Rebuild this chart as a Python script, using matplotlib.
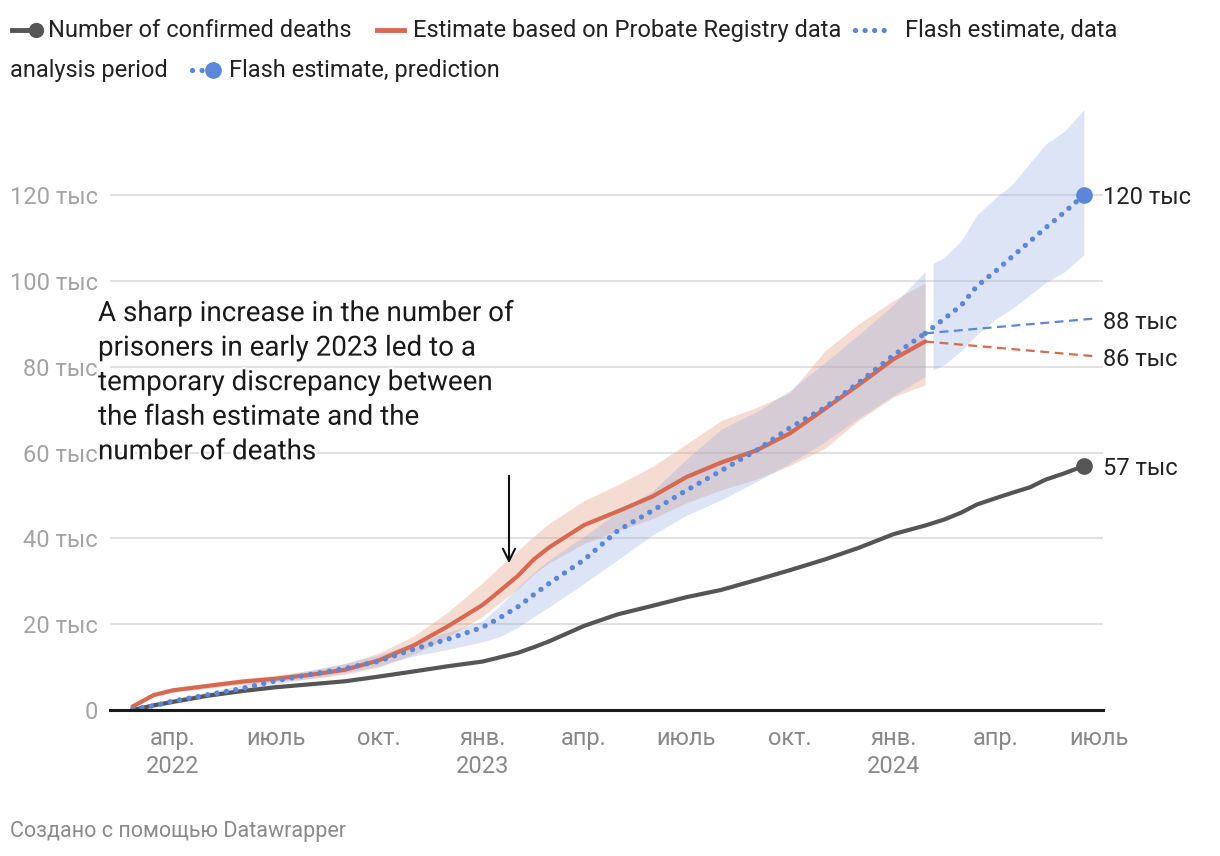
import matplotlib
matplotlib.use('Agg')
import matplotlib.pyplot as plt
import matplotlib.patheffects as pe
from matplotlib.lines import Line2D
import pandas as pd

plt.rcParams['font.family'] = ['Roboto', 'DejaVu Sans']

# values in thousands
main_dates = ['2022-02-24', '2022-03-15', '2022-04-01', '2022-05-01', '2022-06-01',
              '2022-07-01', '2022-08-01', '2022-09-01', '2022-10-01', '2022-11-01',
              '2022-12-01', '2023-01-01', '2023-01-15', '2023-02-01', '2023-02-15',
              '2023-03-01', '2023-04-01', '2023-05-01', '2023-06-01', '2023-07-01',
              '2023-08-01', '2023-09-01', '2023-10-01', '2023-11-01', '2023-12-01',
              '2024-01-01', '2024-01-29']
probate = [0.8, 3.5, 4.6, 5.6, 6.6, 7.3, 8.2, 9.4, 11.6, 15.1, 19.5, 24.5, 27.5, 31.2,
           35.0, 37.9, 43.1, 46.3, 49.8, 54.3, 57.7, 60.5, 64.5, 70.2, 75.8, 81.8, 85.9]
probate_hi = [1.0, 3.9, 5.1, 6.2, 7.3, 8.1, 9.2, 10.8, 13.3, 17.3, 22.8, 29.7, 33.1, 37.1,
              40.4, 43.5, 48.8, 52.5, 56.8, 62.0, 67.5, 70.5, 74.0, 83.7, 90.0, 95.5, 99.6]
probate_lo = [0.6, 3.1, 4.1, 5.0, 5.9, 6.6, 7.3, 8.3, 10.0, 13.0, 17.0, 21.8, 24.8, 28.2,
              31.6, 34.3, 38.8, 41.8, 44.6, 48.3, 51.3, 53.8, 57.0, 61.0, 67.5, 73.0, 75.8]
flash = [0.2, 1.0, 2.1, 3.5, 5.0, 6.8, 8.3, 9.7, 11.4, 14.2, 16.5, 19.3, 21.3, 24.0,
         26.8, 29.5, 35.0, 41.8, 46.5, 51.2, 55.8, 60.5, 65.8, 70.5, 76.3, 82.7, 87.8]
flash_hi = [0.4, 1.5, 2.7, 4.2, 5.8, 7.7, 9.3, 10.9, 12.9, 15.6, 18.2, 20.8, 24.0, 28.5,
            32.0, 35.0, 40.5, 46.0, 51.0, 58.5, 65.5, 69.5, 74.5, 81.0, 87.5, 94.5, 102.2]
flash_lo = [0.0, 0.6, 1.5, 2.9, 4.3, 6.0, 7.4, 8.7, 10.3, 12.6, 14.1, 15.9, 17.0, 19.2,
            21.7, 24.0, 29.5, 35.0, 40.8, 45.4, 49.0, 53.2, 57.5, 62.5, 68.0, 73.3, 77.7]

confirmed_dates = main_dates + ['2024-02-15', '2024-03-01', '2024-03-15', '2024-04-01',
                                '2024-04-15', '2024-05-01', '2024-05-15', '2024-06-01',
                                '2024-06-18']
confirmed = [0.0, 1.1, 1.9, 3.3, 4.4, 5.3, 6.0, 6.7, 7.8, 9.0, 10.2, 11.3, 12.2, 13.3,
             14.6, 16.0, 19.6, 22.3, 24.3, 26.3, 28.0, 30.3, 32.6, 35.1, 37.8, 41.0, 43.0,
             44.4, 46.0, 47.9, 49.4, 50.6, 51.9, 53.7, 55.2, 56.9]

pred_dates = ['2024-01-29', '2024-02-15', '2024-03-01', '2024-03-15', '2024-04-01',
              '2024-04-15', '2024-05-01', '2024-05-15', '2024-06-01', '2024-06-18']
pred = [87.8, 91.2, 94.3, 98.8, 102.4, 105.6, 109.2, 112.4, 116.1, 120.0]
pred_band_dates = ['2024-02-05', '2024-02-15', '2024-03-01', '2024-03-15', '2024-04-01',
                   '2024-04-15', '2024-05-01', '2024-05-15', '2024-06-01', '2024-06-18']
pred_hi = [104.1, 105.5, 109.3, 115.4, 119.5, 122.4, 127.5, 131.9, 135.0, 139.9]
pred_lo = [79.3, 80.5, 83.7, 87.5, 91.2, 93.5, 96.7, 99.6, 102.2, 106.1]

leader_dates = ['2024-01-29', '2024-06-30']
leader_flash = [87.8, 91.3]
leader_probate = [85.9, 82.4]

tick_dates = ['2022-04-01', '2022-07-01', '2022-10-01', '2023-01-01', '2023-04-01',
              '2023-07-01', '2023-10-01', '2024-01-01', '2024-04-01', '2024-07-01']
tick_labels = ['апр.\n2022', 'июль', 'окт.', 'янв.\n2023', 'апр.', 'июль', 'окт.',
               'янв.\n2024', 'апр.', 'июль']
y_ticks = [0, 20, 40, 60, 80, 100, 120]

BLACK = '#555555'
ORANGE = '#d6694f'
BLUE = '#5b87d8'
DOTS = (0, (0.01, 1.8))

md = pd.to_datetime(main_dates)
cd = pd.to_datetime(confirmed_dates)
pdt = pd.to_datetime(pred_dates)
pbd = pd.to_datetime(pred_band_dates)
ld = pd.to_datetime(leader_dates)

fig = plt.figure(figsize=(12.2, 8.56), dpi=100)
ax = fig.add_axes([110 / 1220, 146 / 856, 993 / 1220, 600.6 / 856])

ax.fill_between(md, probate_lo, probate_hi, color='#de8e70', alpha=0.3, lw=0, zorder=1)
ax.fill_between(md, flash_lo, flash_hi, color='#91a8de', alpha=0.3, lw=0, zorder=1)
ax.fill_between(pbd, pred_lo, pred_hi, color='#91a8de', alpha=0.3, lw=0, zorder=1)

ax.plot(ld, leader_flash, color=BLUE, lw=1.6, ls=(0, (4, 2.5)), zorder=2)
ax.plot(ld, leader_probate, color=ORANGE, lw=1.6, ls=(0, (4, 2.5)), zorder=2)

ax.plot(cd, confirmed, color=BLACK, lw=3, solid_capstyle='round', zorder=3)
ax.plot(md, probate, color=ORANGE, lw=3, solid_capstyle='round', zorder=3)
ax.plot(md, flash, color=BLUE, lw=3.8, ls=DOTS, dash_capstyle='round', zorder=4)
ax.plot(pdt, pred, color=BLUE, lw=3.8, ls=DOTS, dash_capstyle='round', zorder=4)
ax.plot(cd[-1:], confirmed[-1:], 'o', color=BLACK, ms=11, zorder=5)
ax.plot(pdt[-1:], pred[-1:], 'o', color=BLUE, ms=11, zorder=5)

ax.set_xlim(pd.Timestamp('2022-02-04'), pd.Timestamp('2024-07-05'))
ax.set_ylim(0, 140)
ax.set_yticks(y_ticks)
ax.set_yticklabels(['0'] + [f'{v} тыс' for v in y_ticks[1:]])
ax.set_xticks(pd.to_datetime(tick_dates))
ax.set_xticklabels(tick_labels, linespacing=1.3)
ax.tick_params(axis='y', length=0, pad=9, labelsize=17, labelcolor='#a3a3a3')
ax.tick_params(axis='x', length=0, pad=12, labelsize=17, labelcolor='#888888')
ax.grid(axis='y', color='#e2e2e2', lw=1.5, zorder=0)
ax.set_axisbelow(True)
for s in ax.spines.values():
    s.set_visible(False)
ax.axhline(0, color='#1a1a1a', lw=2.2, zorder=6, clip_on=False)

# value labels at line ends
lab_x = pd.Timestamp('2024-07-05')
for val, txt in [(119.5, '120 тыс'), (90.3, '88 тыс'), (81.8, '86 тыс'), (56.4, '57 тыс')]:
    ax.text(lab_x, val, txt, fontsize=17, color='#222222', va='center', ha='left',
            clip_on=False)

# overlay in pixel coords for legend, annotation, credit
ov = fig.add_axes([0, 0, 1, 1], facecolor='none')
ov.set_xlim(0, 1220)
ov.set_ylim(856, 0)
ov.axis('off')

ov.add_line(Line2D([12, 36], [30, 30], color=BLACK, lw=3.5))
ov.plot([36], [30], 'o', color=BLACK, ms=10)
ov.text(48, 30, 'Number of confirmed deaths', fontsize=17, color='#222222', va='center')
ov.add_line(Line2D([377, 404], [30, 30], color=ORANGE, lw=3.5))
ov.text(413, 30, 'Estimate based on Probate Registry data', fontsize=17, color='#222222',
        va='center')
ov.add_line(Line2D([855, 893], [30, 30], color=BLUE, lw=3.8, ls=DOTS,
                   dash_capstyle='round'))
ov.text(905, 30, 'Flash estimate, data', fontsize=17, color='#222222', va='center')
ov.text(10, 70, 'analysis period', fontsize=17, color='#222222', va='center')
ov.add_line(Line2D([192, 212], [70, 70], color=BLUE, lw=3.8, ls=DOTS,
                   dash_capstyle='round'))
ov.plot([213], [70], 'o', color=BLUE, ms=11)
ov.text(229, 70, 'Flash estimate, prediction', fontsize=17, color='#222222', va='center')

ov.text(98, 300, 'A sharp increase in the number of\nprisoners in early 2023 led to a\n'
        'temporary discrepancy between\nthe flash estimate and the\nnumber of deaths',
        fontsize=20, color='#1a1a1a', va='top', ha='left', linespacing=1.36,
        path_effects=[pe.withStroke(linewidth=3, foreground='white')])
ov.annotate('', xy=(509, 566), xytext=(509, 473),
            arrowprops=dict(arrowstyle='->', color='#111111', lw=1.5, mutation_scale=22))

ov.text(10, 832, 'Создано с помощью Datawrapper', fontsize=15.5, color='#8a8a8a',
        va='center')

fig.savefig('out.png', dpi=100)
